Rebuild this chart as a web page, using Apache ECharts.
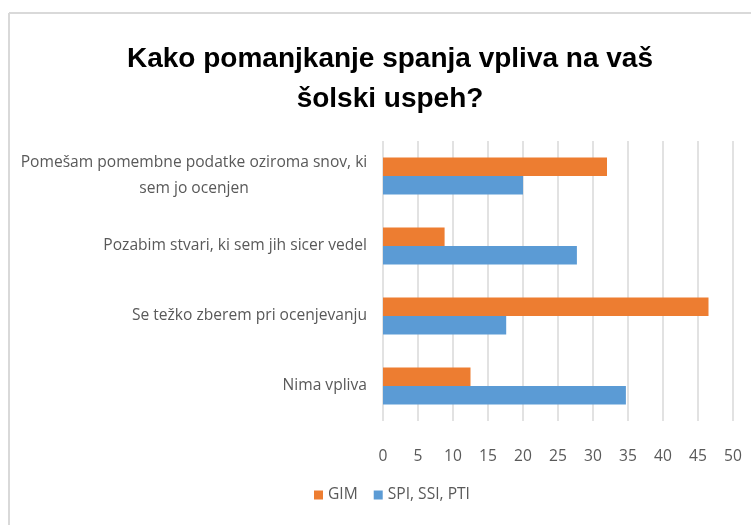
<!DOCTYPE html>
<html>
<head>
<meta charset="utf-8">
<script src="https://cdn.jsdelivr.net/npm/echarts@6/dist/echarts.min.js"></script>
<style>
  html, body { margin: 0; padding: 0; background: #fff; }
  #chart { width: 751px; height: 525px; }
</style>
</head>
<body>
<div id="chart"></div>
<script>
const categories = [
  "Pomešam pomembne podatke oziroma snov, ki\nsem jo ocenjen",
  "Pozabim stvari, ki sem jih sicer vedel",
  "Se težko zberem pri ocenjevanju",
  "Nima vpliva"
];
const gimValues = [32, 8.8, 46.5, 12.5];
const spiValues = [20, 27.7, 17.6, 34.7];
const seriesNames = ["GIM", "SPI, SSI, PTI"];

const chart = echarts.init(document.getElementById("chart"));

const labelFont = "'Open Sans', sans-serif";

const option = {
  animation: false,
  title: {
    text: "Kako pomanjkanje spanja vpliva na vaš\nšolski uspeh?",
    left: 385,
    textAlign: "center",
    top: 34,
    textStyle: {
      fontFamily: "'Liberation Sans', sans-serif",
      fontWeight: "bold",
      fontSize: 28,
      lineHeight: 40,
      color: "#000"
    }
  },
  graphic: [
    { type: "line", shape: { x1: 9, y1: 13, x2: 9, y2: 525 }, style: { stroke: "#d9d9d9", lineWidth: 2 } },
    { type: "line", shape: { x1: 9, y1: 13, x2: 751, y2: 13 }, style: { stroke: "#d9d9d9", lineWidth: 2 } }
  ],
  legend: {
    data: seriesNames,
    bottom: 17,
    left: 309,
    icon: "rect",
    itemWidth: 9,
    itemHeight: 9,
    itemGap: 16,
    textStyle: { fontFamily: labelFont, fontSize: 15.6, color: "#595959" }
  },
  grid: { left: 383, right: 18, top: 141, bottom: 104, containLabel: false },
  xAxis: {
    type: "value",
    min: 0,
    max: 50,
    interval: 5,
    axisLine: { show: false },
    axisTick: { show: false },
    splitLine: { lineStyle: { color: "#d9d9d9", width: 1.5 } },
    axisLabel: { fontFamily: labelFont, fontSize: 15.6, color: "#595959", margin: 28 }
  },
  yAxis: {
    type: "category",
    inverse: true,
    data: categories,
    axisLine: { show: false },
    axisTick: { show: false },
    axisLabel: {
      margin: 16,
      fontFamily: labelFont,
      fontSize: 15.6,
      color: "#595959",
      lineHeight: 26,
      formatter: (v) => {
        if (v.indexOf("\n") < 0) return v;
        return v.split("\n").map((s) => "{c|" + s + "}").join("\n");
      },
      rich: {
        c: { width: 346, align: "center", fontFamily: labelFont, fontSize: 15.6, color: "#595959", lineHeight: 26 }
      }
    }
  },
  series: [
    {
      name: seriesNames[0],
      type: "bar",
      data: gimValues,
      barGap: "0%",
      barCategoryGap: "47%",
      itemStyle: { color: "#ED7D31" }
    },
    {
      name: seriesNames[1],
      type: "bar",
      data: spiValues,
      itemStyle: { color: "#5B9BD5" }
    }
  ]
};

chart.setOption(option);
</script>
</body>
</html>
